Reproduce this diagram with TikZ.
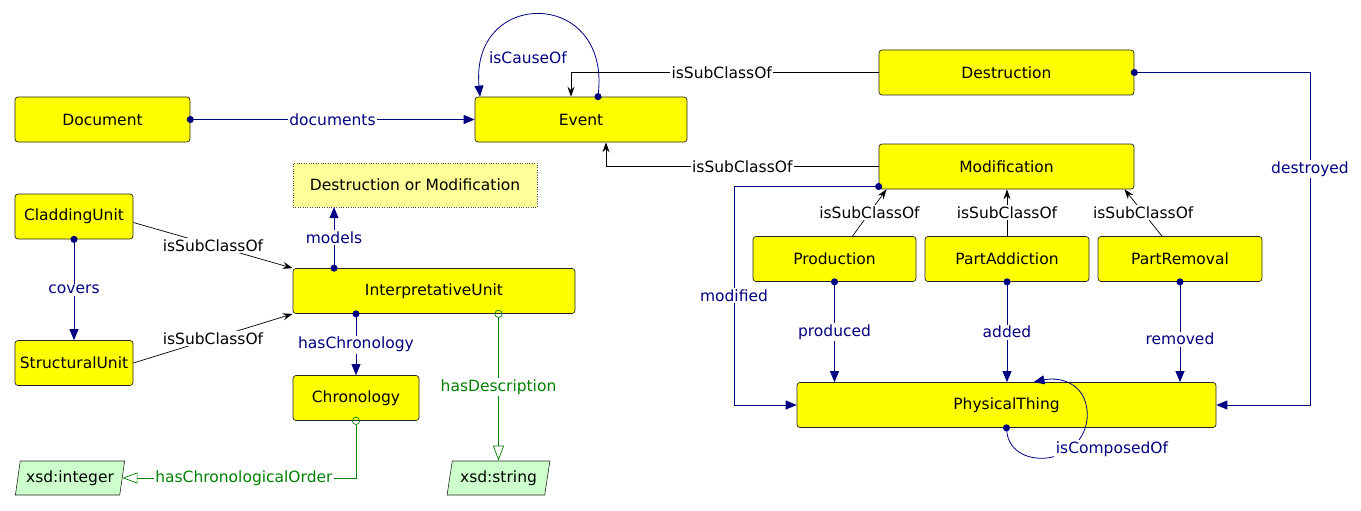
\documentclass[tikz,border=0pt]{standalone}
\usepackage{fontspec}
\setmainfont{DejaVu Sans}
\usetikzlibrary{arrows.meta,shapes.geometric,calc}
\newcommand\fsz{\fontsize{15.5}{18}\selectfont}
\definecolor{navyc}{HTML}{000080}
\definecolor{greenc}{HTML}{008000}
\definecolor{dtfill}{HTML}{CCFFCC}
\definecolor{paley}{HTML}{FFFF99}
\definecolor{clsy}{RGB}{255,255,0}
\begin{document}
\begin{tikzpicture}[x=1pt,y=-1pt,
  cls/.style={draw=black!85, fill=clsy, rounded corners=3pt, minimum height=45pt, inner sep=0pt, font=\fsz, line width=0.7pt},
  dtype/.style={trapezium, trapezium left angle=74, trapezium right angle=106, trapezium stretches=true,
     draw=black!85, fill=dtfill, minimum height=34pt, inner sep=0pt, font=\fsz, line width=0.6pt},
  lab/.style={fill=white, inner sep=1.5pt, font=\fsz},
  objp/.style={navyc, line width=0.8pt, {Circle[length=7pt]}-{Triangle[length=11pt,width=9pt]}, shorten <=-3.5pt},
  subc/.style={black, line width=0.7pt, -{Stealth[length=10pt,width=7pt,inset=3.5pt]}},
  datap/.style={greenc, line width=0.7pt, {Circle[open,length=8pt]}-{Triangle[open,length=15pt,width=11pt]}, shorten <=-4pt},
]
\useasboundingbox (0,0) rectangle (1361,511);

% nodes
\node[cls, minimum width=175pt] (doc) at (102.5,119.5) {Document};
\node[cls, minimum width=212pt] (event) at (581,119.5) {Event};
\node[cls, minimum width=255pt] (destr) at (1006.5,72.5) {Destruction};
\node[cls, minimum width=255pt] (mod) at (1006.5,166.5) {Modification};
\node[draw=black!70, dotted, fill=paley, minimum width=244pt, minimum height=44pt, inner sep=0pt, font=\fsz] (dom) at (415,185) {Destruction or Modification};
\node[cls, minimum width=118pt] (clad) at (74,216.5) {CladdingUnit};
\node[cls, minimum width=282pt] (iu) at (434,291) {InterpretativeUnit};
\node[cls, minimum width=118pt] (struct) at (74,363) {StructuralUnit};
\node[cls, minimum width=126pt] (chron) at (356,398) {Chronology};
\node[dtype, minimum width=110pt] (xint) at (70,478) {xsd:integer};
\node[dtype, minimum width=103pt] (xstr) at (498.5,478) {xsd:string};
\node[cls, minimum width=163pt] (prod) at (834.5,259) {Production};
\node[cls, minimum width=164pt] (padd) at (1007,259) {PartAddiction};
\node[cls, minimum width=164pt] (prem) at (1180,259) {PartRemoval};
\node[cls, minimum width=419pt] (phys) at (1006.5,405) {PhysicalThing};

% object properties
\draw[objp] (doc.east) -- node[lab, text=navyc]{documents} (event.west);
\draw[objp] ([xshift=17pt]event.north) .. controls (610,-12) and (470,-12) .. ([xshift=-101pt]event.north);
\node[font=\fsz, text=navyc] (lcause) at (528,58) {isCauseOf};
\draw[objp] (destr.east) -- (1310,72.5) |- node[lab, text=navyc, pos=0.145]{destroyed} (phys.east);
\draw[objp] ([yshift=-20pt]mod.west) -- (734,186.5) |- node[lab, text=navyc, pos=0.25]{modified} (phys.west);
\draw[objp] (prod.south) -- node[lab, text=navyc]{produced} (prod.south |- phys.north);
\draw[objp] (padd.south) -- node[lab, text=navyc]{added} (padd.south |- phys.north);
\draw[objp] (prem.south) -- node[lab, text=navyc, pos=0.57]{removed} (prem.south |- phys.north);
\draw[objp] (phys.south) .. controls (1010,470) and (1080,468) .. (1087,420) .. controls (1090,385) and (1062,376) .. ([xshift=27pt]phys.north);
\node[lab, text=navyc] (lcomp) at (1112,449) {isComposedOf};
\draw[objp] (clad.south) -- node[lab, text=navyc]{covers} (struct.north);
\draw[objp] ([xshift=-100pt]iu.north) -- node[lab, text=navyc]{models} ([xshift=-100pt]iu.north |- dom.south);
\draw[objp] (chron.north |- iu.south) -- node[lab, text=navyc]{hasChronology} (chron.north);

% subclass
\draw[subc] (destr.west) -| node[lab, pos=0.255]{isSubClassOf} ([xshift=-10pt]event.north);
\draw[subc] (mod.west) -| node[lab, pos=0.25]{isSubClassOf} ([xshift=25pt]event.south);
\draw[subc] ([xshift=18pt]prod.north) -- node[lab]{isSubClassOf} ([xshift=-120pt]mod.south);
\draw[subc] (padd.north) -- node[lab]{isSubClassOf} (padd.north |- mod.south);
\draw[subc] ([xshift=-18pt]prem.north) -- node[lab]{isSubClassOf} ([xshift=118pt]mod.south);
\draw[subc] ([yshift=-6pt]clad.east) -- node[lab]{isSubClassOf} (iu.north west);
\draw[subc] (struct.east) -- node[lab]{isSubClassOf} (iu.south west);

% data properties
\draw[datap] (xstr.north |- iu.south) -- node[lab, text=greenc]{hasDescription} (xstr.north);
\draw[datap] (chron.south) |- node[lab, text=greenc, pos=0.74]{hasChronologicalOrder} (xint.east);
\end{tikzpicture}
\end{document}
